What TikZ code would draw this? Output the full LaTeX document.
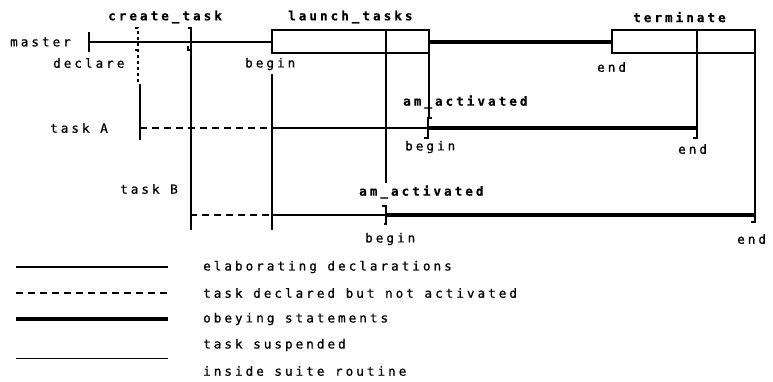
\documentclass[tikz,border=0pt]{standalone}
\usepackage{fontspec}
\newfontfamily\plotfont[LetterSpace=24,FakeBold=0.8]{DejaVu Sans Mono}
\newfontfamily\plotbold[LetterSpace=24,FakeBold=0.6]{DejaVu Sans Mono Bold}
\begin{document}
\begin{tikzpicture}[x=1pt,y=-1pt,
  lbl/.style={inner sep=0pt,anchor=west,font=\plotfont\fontsize{12.6}{13}\selectfont},
  blbl/.style={inner sep=0pt,anchor=west,font=\plotbold\fontsize{12.6}{13}\selectfont},
  lwthin/.style={line width=1.3pt},
  lwthick/.style={line width=3.6pt},
  lwdash/.style={line width=1.3pt,dash pattern=on 7pt off 5pt},
  lwtick/.style={line width=1.1pt}]
\useasboundingbox (0,0) rectangle (773,381);
% coordinates
\coordinate (m0) at (89,42);
\coordinate (mB) at (272,42);
\coordinate (mE) at (429,42);
\coordinate (mT) at (612,42);
\coordinate (lb1) at (272,30);
\coordinate (lb2) at (429,53);
\coordinate (tb1) at (612,30);
\coordinate (tb2) at (755,53);
\coordinate (a0) at (140,128);
\coordinate (aB) at (272,128);
\coordinate (aA) at (429,128);
\coordinate (aE) at (697,128);
\coordinate (b0) at (190,215);
\coordinate (bB) at (272,215);
\coordinate (bA) at (386,215);
\coordinate (bE) at (755,215);
% master
\draw[lwtick] (89,32) -- (89,52);
\draw[lwthin] (m0) -- (mB);
\draw[lwtick] (lb1) rectangle (lb2);
\draw[lwthick] (mE) -- (mT);
\draw[lwtick] (tb1) rectangle (tb2);
% create_task brackets and verticals
\draw[lwtick,dashed] (135,28) -- (138,28) -- (138,82);
\draw[lwtick] (135,50) -- (138,50);
\draw[lwtick] (140,84) -- (140,140);
\draw[lwtick] (188,28) -- (191,28) -- (191,230);
\draw[lwtick] (191,50) -- (188,50) -- (188,46);
% begin vertical
\draw[lwtick] (272,74) -- (272,230);
% launch inner vertical down to task B
\draw[lwtick] (386,30) -- (386,183);
\draw[lwtick] (429,53) -- (429,118);
% terminate verticals
\draw[lwtick] (697,30) -- (697,138) -- (693,138);
\draw[lwtick] (755,53) -- (755,222) -- (751,222);
% task A
\draw[lwdash] (a0) -- (aB);
\draw[lwthin] (aB) -- (aA);
\draw[lwthick] (aA) -- (aE);
\draw[lwtick] (432,118) -- (428,118) -- (428,138) -- (424,138);
% task B
\draw[lwdash] (b0) -- (bB);
\draw[lwthin] (bB) -- (bA);
\draw[lwthick] (bA) -- (bE);
\draw[lwtick] (382,206) -- (386,206) -- (386,224) -- (384,224);
% labels
\node[lbl] (master) at (10,42) {master};
\node[lbl] (declare) at (53,63) {declare};
\node[blbl] (create) at (108,17) {create\_task};
\node[blbl] (launch) at (288,17) {launch\_tasks};
\node[blbl] (term) at (633,17) {terminate};
\node[lbl] (mbegin) at (245,64) {begin};
\node[lbl] (mend) at (597,67) {end};
\node[lbl] (taskA) at (50,128) {task A};
\node[blbl] (amA) at (403,102) {am\_activated};
\node[lbl] (abegin) at (405,147) {begin};
\node[lbl] (aend) at (678,149) {end};
\node[lbl] (taskB) at (120,189) {task B};
\node[blbl] (amB) at (359,192) {am\_activated};
\node[lbl] (bbegin) at (365,239) {begin};
\node[lbl] (bend) at (737,239) {end};
% legend
\coordinate (l1a) at (16,267); \coordinate (l1b) at (168,267);
\coordinate (l2a) at (16,293); \coordinate (l2b) at (168,293);
\coordinate (l3a) at (16,319); \coordinate (l3b) at (168,319);
\coordinate (l5a) at (16,358); \coordinate (l5b) at (168,358);
\draw[lwthin] (l1a) -- (l1b);
\draw[lwdash] (l2a) -- (l2b);
\draw[lwthick] (l3a) -- (l3b);
\draw[line width=1pt] (l5a) -- (l5b);
\node[lbl] (t1) at (203,267) {elaborating declarations};
\node[lbl] (t2) at (203,293) {task declared but not activated};
\node[lbl] (t3) at (203,319) {obeying statements};
\node[lbl] (t4) at (203,345) {task suspended};
\node[lbl] (t5) at (203,371) {inside suite routine};
\end{tikzpicture}
\end{document}
